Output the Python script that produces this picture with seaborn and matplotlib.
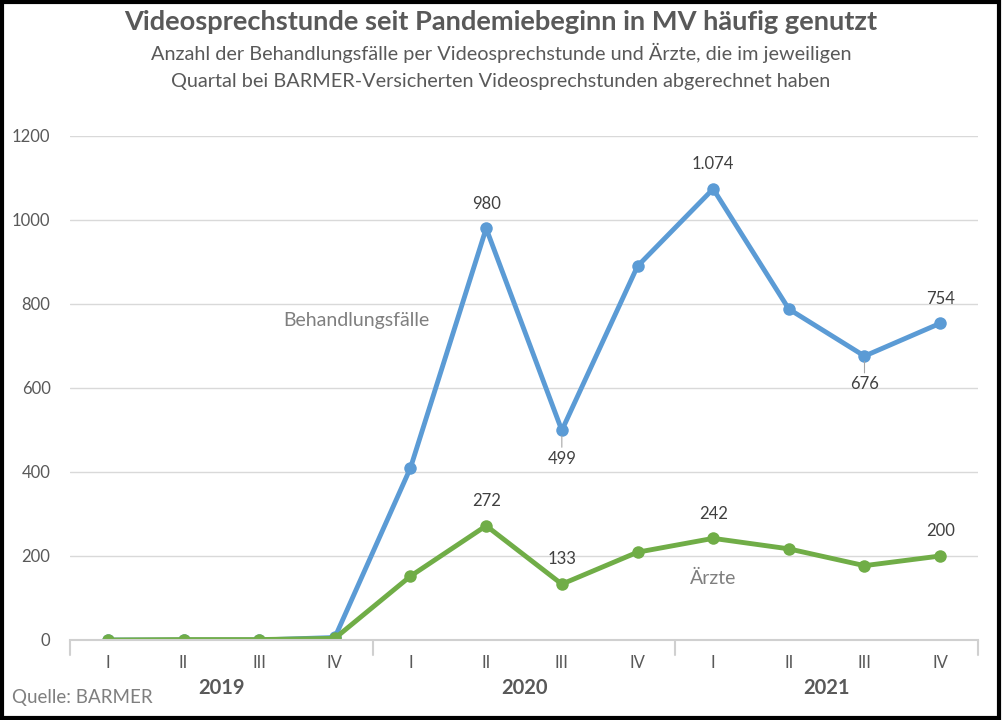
import pandas as pd
import matplotlib.pyplot as plt
import seaborn as sns

# Daten
quartale = ["I", "II", "III", "IV"] * 3
jahre = ["2019", "2020", "2021"]
behandlungsfaelle = [0, 0, 0, 6, 410, 980, 499, 890, 1074, 788, 676, 754]
aerzte = [0, 1, 1, 4, 152, 272, 133, 209, 242, 217, 177, 200]

BLUE = "#5B9BD5"
GREEN = "#70AD47"
GRAY = "#595959"

df = pd.DataFrame({
    "pos": list(range(len(quartale))) * 2,
    "wert": behandlungsfaelle + aerzte,
    "serie": ["Behandlungsfälle"] * len(quartale) + ["Ärzte"] * len(quartale),
})

sns.set_style("white")
plt.rcParams["font.family"] = ["Lato", "DejaVu Sans"]

fig = plt.figure(figsize=(10.02, 7.2), dpi=100)
ax = fig.add_axes([70 / 1002, 80 / 720, 908 / 1002, 504 / 720])

sns.lineplot(data=df, x="pos", y="wert", hue="serie",
             palette={"Behandlungsfälle": BLUE, "Ärzte": GREEN},
             marker="o", markersize=9, markeredgewidth=0, linewidth=3.5,
             legend=False, ax=ax)

ax.set_xlim(-0.5, len(quartale) - 0.5)
ax.set_ylim(0, 1200)
ax.set_yticks(range(0, 1201, 200))
ax.yaxis.grid(True, color="#D9D9D9", linewidth=1)
ax.set_axisbelow(True)
for s in ["top", "right", "left"]:
    ax.spines[s].set_visible(False)
ax.spines["bottom"].set_color("#D0D0D0")
ax.spines["bottom"].set_linewidth(1.5)
ax.tick_params(axis="y", length=0, labelsize=12, labelcolor=GRAY, pad=14)
ax.set_xticks([])
ax.set_xlabel("")
ax.set_ylabel("")

# Quartals- und Jahresbeschriftung
trans = ax.get_xaxis_transform()
for i, q in enumerate(quartale):
    ax.text(i, -0.045, q, transform=trans, ha="center", va="center",
            fontsize=12, color=GRAY)
for k, j in enumerate(jahre):
    ax.text(k * 4 + 1.5, -0.095, j, transform=trans, ha="center", va="center",
            fontsize=14.5, fontweight="bold", color=GRAY)
for k in range(4):
    ax.plot([k * 4 - 0.5] * 2, [0, -0.03], transform=trans, color="#D0D0D0",
            linewidth=1.5, clip_on=False)

def fmt(v):
    return f"{v:,}".replace(",", ".")

# Datenbeschriftungen
oben_b = [5, 8, 11]
unten_b = [6, 10]
for i in oben_b:
    ax.annotate(fmt(behandlungsfaelle[i]), (i, behandlungsfaelle[i]),
                xytext=(0, 12), textcoords="offset points", ha="center",
                va="bottom", fontsize=12, color="#404040")
for i in unten_b:
    ax.annotate(fmt(behandlungsfaelle[i]), (i, behandlungsfaelle[i]),
                xytext=(0, -26), textcoords="offset points", ha="center",
                va="bottom", fontsize=12, color="#404040",
                arrowprops=dict(arrowstyle="-", color="#A6A6A6", lw=0.8,
                                shrinkA=0, shrinkB=4))
for i in [5, 6, 8, 11]:
    ax.annotate(fmt(aerzte[i]), (i, aerzte[i]),
                xytext=(0, 12), textcoords="offset points", ha="center",
                va="bottom", fontsize=12, color="#404040")

ax.text(3.28, 760, "Behandlungsfälle", ha="center", va="center",
        fontsize=14, color="#7F7F7F")
ax.text(8.0, 147, "Ärzte", ha="center", va="center",
        fontsize=14, color="#7F7F7F")

# Titel
fig.text(0.5, 1 - 22 / 720, "Videosprechstunde seit Pandemiebeginn in MV häufig genutzt",
         ha="center", va="center", fontsize=19.6, fontweight="bold", color=GRAY)
fig.text(0.5, 1 - 53 / 720,
         "Anzahl der Behandlungsfälle per Videosprechstunde und Ärzte, die im jeweiligen",
         ha="center", va="center", fontsize=14.3, color=GRAY)
fig.text(0.5, 1 - 81 / 720,
         "Quartal bei BARMER-Versicherten Videosprechstunden abgerechnet haben",
         ha="center", va="center", fontsize=14.3, color=GRAY)
fig.text(12 / 1002, 1 - 698 / 720, "Quelle: BARMER", ha="left", va="center",
         fontsize=13.5, color="#7F7F7F")

# Rahmen
fig.patches.append(plt.Rectangle((0.002, 0.003), 0.995, 0.994, fill=False,
                                 edgecolor="black", linewidth=3,
                                 transform=fig.transFigure))

fig.savefig("out.png", dpi=100, facecolor="white")
